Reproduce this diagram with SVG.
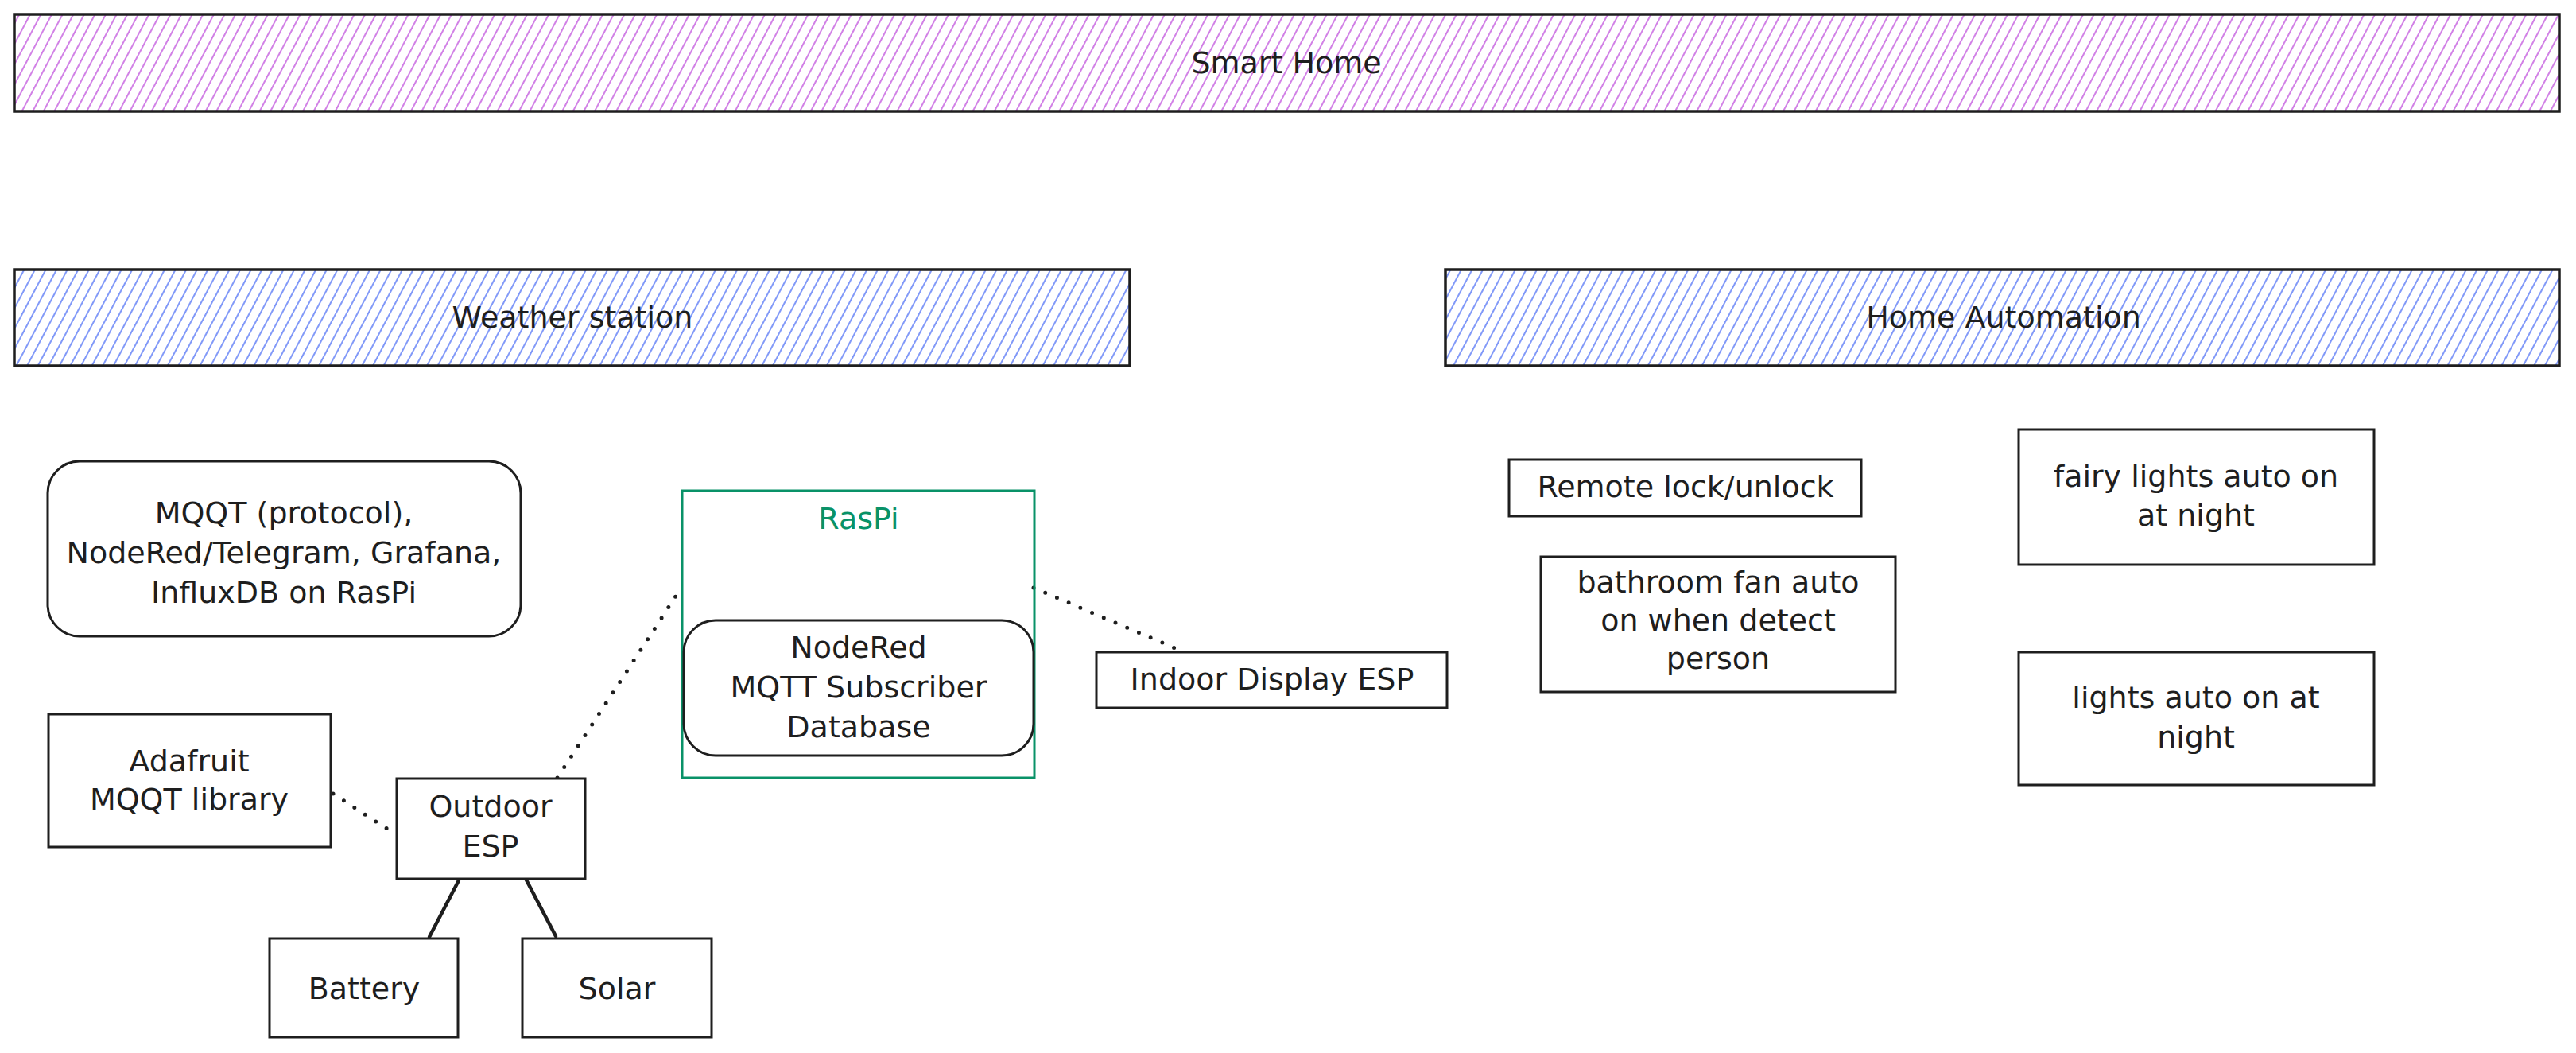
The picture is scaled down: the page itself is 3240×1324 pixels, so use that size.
<svg xmlns="http://www.w3.org/2000/svg" width="3240" height="1324" viewBox="0 0 3240 1324">
  <style>
    text { font-family: "DejaVu Sans", "Liberation Sans", sans-serif; font-size: 38px; fill: #1e1e1e; text-anchor: middle; }
    .box { fill: #ffffff; stroke: #1e1e1e; stroke-width: 3; }
    .bar-p { fill: url(#hatchPurple); stroke: #1e1e1e; stroke-width: 3.5; }
    .bar-b { fill: url(#hatchBlue); stroke: #1e1e1e; stroke-width: 3.5; }
    .green { fill: none; stroke: #099268; stroke-width: 3; }
    .green-t { fill: #099268; }
    .dot { fill: none; stroke: #1e1e1e; stroke-width: 5; stroke-linecap: round; stroke-dasharray: 0 16; }
    .solid { fill: none; stroke: #1e1e1e; stroke-width: 4.5; stroke-linecap: round; }
  </style>
  <defs>
    <pattern id="hatchPurple" patternUnits="userSpaceOnUse" width="12" height="12" patternTransform="rotate(28)">
      <line x1="6" y1="0" x2="6" y2="12" stroke="#be4bdb" stroke-width="1.4"/>
    </pattern>
    <pattern id="hatchBlue" patternUnits="userSpaceOnUse" width="12" height="12" patternTransform="rotate(28)">
      <line x1="6" y1="0" x2="6" y2="12" stroke="#4c6ef5" stroke-width="1.4"/>
    </pattern>
  </defs>
  <rect width="3240" height="1324" fill="#ffffff"/>

  <g id="connectors">
    <path class="dot" d="M 1300 739 L 1478 815"/>
    <path class="dot" d="M 701 978 L 851 748"/>
    <path class="dot" d="M 419 998 L 499 1050"/>
    <path class="solid" d="M 577 1107 L 540 1178"/>
    <path class="solid" d="M 657 1097 L 699 1177"/>
  </g>

  <g id="smart-home">
    <rect class="bar-p" x="18" y="18" width="3201" height="122"/>
    <text x="1618" y="92">Smart Home</text>
  </g>
  <g id="weather-station">
    <rect class="bar-b" x="18" y="339" width="1403" height="121"/>
    <text x="720" y="412">Weather station</text>
  </g>
  <g id="home-automation">
    <rect class="bar-b" x="1818" y="339" width="1401" height="121"/>
    <text x="2520" y="412">Home Automation</text>
  </g>

  <g id="mqqt-info">
    <rect class="box" x="60" y="580" width="595" height="220" rx="40" ry="40"/>
    <text x="357" y="658">MQQT (protocol),</text>
    <text x="357" y="708">NodeRed/Telegram, Grafana,</text>
    <text x="357" y="758">InfluxDB on RasPi</text>
  </g>

  <g id="raspi">
    <rect class="green" x="858" y="617" width="443" height="361"/>
    <text class="green-t" x="1080" y="665">RasPi</text>
  </g>
  <g id="nodered">
    <rect class="box" x="860" y="780" width="440" height="170" rx="40" ry="40"/>
    <text x="1080" y="827">NodeRed</text>
    <text x="1080" y="877">MQTT Subscriber</text>
    <text x="1080" y="927">Database</text>
  </g>

  <g id="indoor-display">
    <rect class="box" x="1379" y="820" width="441" height="70"/>
    <text x="1600" y="867">Indoor Display ESP</text>
  </g>

  <g id="adafruit">
    <rect class="box" x="61" y="898" width="355" height="167"/>
    <text x="238" y="970">Adafruit</text>
    <text x="238" y="1018">MQQT library</text>
  </g>

  <g id="outdoor-esp">
    <rect class="box" x="499" y="979" width="237" height="126"/>
    <text x="617" y="1027">Outdoor</text>
    <text x="617" y="1077">ESP</text>
  </g>

  <g id="battery">
    <rect class="box" x="339" y="1180" width="237" height="124"/>
    <text x="458" y="1256">Battery</text>
  </g>

  <g id="solar">
    <rect class="box" x="657" y="1180" width="238" height="124"/>
    <text x="776" y="1256">Solar</text>
  </g>

  <g id="remote-lock">
    <rect class="box" x="1898" y="578" width="443" height="71"/>
    <text x="2120" y="625">Remote lock/unlock</text>
  </g>

  <g id="bathroom-fan">
    <rect class="box" x="1938" y="700" width="446" height="170"/>
    <text x="2161" y="745">bathroom fan auto</text>
    <text x="2161" y="793">on when detect</text>
    <text x="2161" y="841">person</text>
  </g>

  <g id="fairy-lights">
    <rect class="box" x="2539" y="540" width="447" height="170"/>
    <text x="2762" y="612">fairy lights auto on</text>
    <text x="2762" y="661">at night</text>
  </g>

  <g id="lights-auto">
    <rect class="box" x="2539" y="820" width="447" height="167"/>
    <text x="2762" y="890">lights auto on at</text>
    <text x="2762" y="940">night</text>
  </g>
</svg>
